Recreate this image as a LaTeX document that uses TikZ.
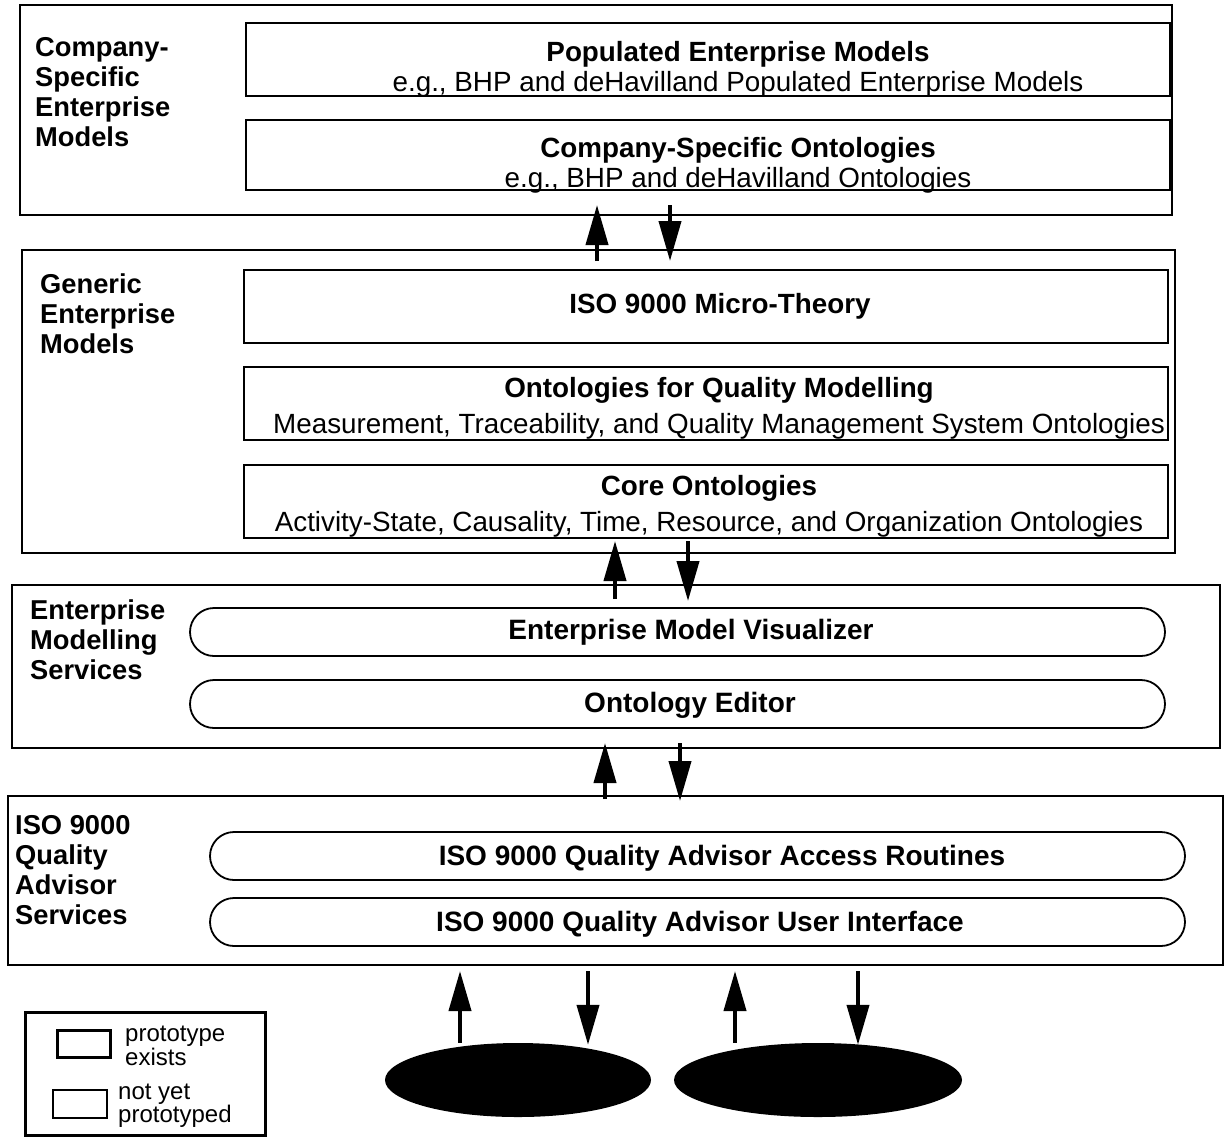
\documentclass[tikz,border=0pt]{standalone}
\usepackage{fontspec}
\setmainfont{Liberation Sans}
\usetikzlibrary{positioning, arrows.meta, shapes.geometric}

\tikzset{
  layer/.style={draw, line width=2pt, inner sep=0pt},
  modelbox/.style={draw, line width=2.5pt, inner sep=0pt, minimum width=924pt, minimum height=73pt},
  servicebox/.style={draw, line width=1.8pt, rounded corners=24pt, inner sep=0pt,
    minimum width=975pt, minimum height=48pt},
  layertext/.style={align=left, anchor=north west, inner sep=0pt, font=\fontsize{27.3}{30}\selectfont\bfseries},
  boxtext/.style={align=center, inner sep=0pt, font=\fontsize{27.8}{30}\selectfont},
  servicetext/.style={inner sep=0pt, font=\fontsize{28}{30}\selectfont\bfseries},
  keytext/.style={align=left, anchor=west, inner sep=0pt, font=\fontsize{24}{22}\selectfont},
  user/.style={ellipse, fill=black, inner sep=0pt, minimum height=74pt},
  flow/.style={line width=4pt, -{Triangle[length=40pt,width=22pt]}},
}

\begin{document}
\begin{tikzpicture}[x=1pt, y=-1pt]
  \useasboundingbox (0,0) rectangle (1225,1138);

  % Company-specific layer
  \node[layer, minimum width=1152pt, minimum height=210pt] (csm) at (596,110) {};
  \node[layertext] (csmtxt) at (35,37) {Company-\\Specific\\Enterprise\\Models};
  \node[modelbox] (pop) at (708,59.5) {};
  \node[boxtext] (poptxt) at (738,69) {\textbf{Populated Enterprise Models}\\e.g., BHP and deHavilland Populated Enterprise Models};
  \node[modelbox, minimum height=70pt] (cso) at (708,155) {};
  \node[boxtext] (csotxt) at (738,165) {\textbf{Company-Specific Ontologies}\\e.g., BHP and deHavilland Ontologies};

  % Generic layer
  \node[layer, minimum width=1153pt, minimum height=303pt] (gen) at (598.5,401.5) {};
  \node[layertext] (gentxt) at (40,274) {Generic\\Enterprise\\Models};
  \node[modelbox] (micro) at (706,306.5) {};
  \node[boxtext, font=\fontsize{27.8}{30}\selectfont\bfseries] (microtxt) at (720,306) {ISO 9000 Micro-Theory};
  \node[modelbox] (qual) at (706,403.5) {};
  \node[boxtext, font=\fontsize{27.8}{36}\selectfont] (qualtxt) at (719,408) {\textbf{Ontologies for Quality Modelling}\\Measurement, Traceability, and Quality Management System Ontologies};
  \node[modelbox] (core) at (706,501.5) {};
  \node[boxtext, font=\fontsize{27.8}{36}\selectfont] (coretxt) at (709,506) {\textbf{Core Ontologies}\\Activity-State, Causality, Time, Resource, and Organization Ontologies};

  % Modelling services layer
  \node[layer, minimum width=1208pt, minimum height=163pt] (ems) at (616,666.5) {};
  \node[layertext] (emstxt) at (30,600) {Enterprise\\Modelling\\Services};
  \node[servicebox] (vis) at (677.5,632) {};
  \node[servicetext] (vistxt) at (691,632) {Enterprise Model Visualizer};
  \node[servicebox] (edit) at (677.5,704) {};
  \node[servicetext] (edittxt) at (690,705) {Ontology Editor};

  % Quality advisor layer
  \node[layer, minimum width=1215pt, minimum height=169pt] (qas) at (615.5,880.5) {};
  \node[layertext] (qastxt) at (15,815) {ISO 9000\\Quality\\Advisor\\Services};
  \node[servicebox] (access) at (697.5,856) {};
  \node[servicetext] (accesstxt) at (722,858) {ISO 9000 Quality Advisor Access Routines};
  \node[servicebox] (ui) at (697.5,922) {};
  \node[servicetext] (uitxt) at (700,924) {ISO 9000 Quality Advisor User Interface};

  % Users
  \node[user, minimum width=266pt] (e1) at (518,1080) {};
  \node[user, minimum width=288pt] (e2) at (818,1080) {};

  % Legend
  \node[draw, line width=3pt, minimum width=240pt, minimum height=123pt] (key) at (145,1073.5) {};
  \node[draw, line width=3pt, minimum width=53pt, minimum height=27pt] (keyA) at (83.5,1043.5) {};
  \node[keytext] (keyAtxt) at (125,1046) {prototype\\exists};
  \node[draw, line width=2pt, minimum width=54pt, minimum height=28pt] (keyB) at (80,1104) {};
  \node[keytext] (keyBtxt) at (118,1106) {not yet\\prototyped};

  % Arrows between layers
  \draw[flow] ([xshift=-1.5pt, yshift=-12pt]gen.north) -- ([xshift=1pt, yshift=11pt]csm.south);
  \draw[flow] ([xshift=74pt, yshift=11pt]csm.south) -- ([xshift=71.5pt, yshift=-12pt]gen.north);
  \draw[flow] ([xshift=-1pt, yshift=-15pt]ems.north) -- ([xshift=16.5pt, yshift=13pt]gen.south);
  \draw[flow] ([xshift=89.5pt, yshift=13pt]gen.south) -- ([xshift=72pt, yshift=-17pt]ems.north);
  \draw[flow] ([xshift=-10.5pt, yshift=-4pt]qas.north) -- ([xshift=-11pt, yshift=6pt]ems.south);
  \draw[flow] ([xshift=64pt, yshift=6pt]ems.south) -- ([xshift=64.5pt, yshift=-6pt]qas.north);

  % Arrows to users
  \draw[flow] ([xshift=-58pt]e1.north) -- ([xshift=-155.5pt, yshift=-5pt]qas.south);
  \draw[flow] ([xshift=-27.5pt, yshift=-5pt]qas.south) -- ([xshift=70pt, yshift=-2pt]e1.north);
  \draw[flow] ([xshift=-83pt]e2.north) -- ([xshift=119.5pt, yshift=-5pt]qas.south);
  \draw[flow] ([xshift=242.5pt, yshift=-5pt]qas.south) -- ([xshift=40pt, yshift=-2pt]e2.north);
\end{tikzpicture}
\end{document}
